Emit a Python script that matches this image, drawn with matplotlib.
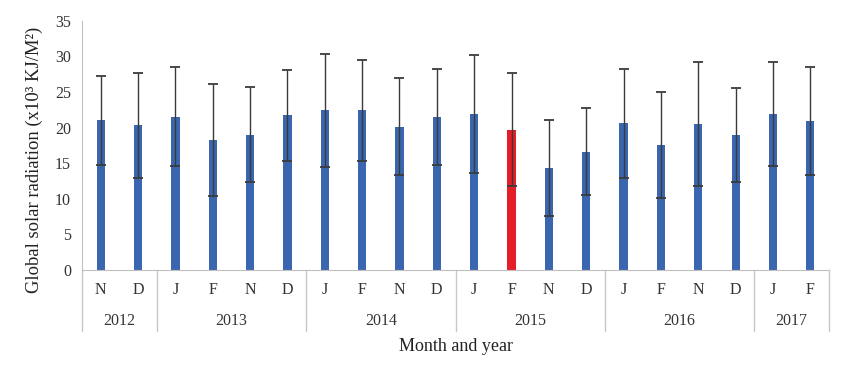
import matplotlib
matplotlib.use("Agg")
import matplotlib.pyplot as plt
import matplotlib.transforms as mtransforms
import numpy as np

months = ["N", "D", "J", "F", "N", "D", "J", "F", "N", "D",
          "J", "F", "N", "D", "J", "F", "N", "D", "J", "F"]
years = ["2012", "2013", "2014", "2015", "2016", "2017"]
year_counts = [2, 4, 4, 4, 4, 2]
values = [21.0, 20.3, 21.5, 18.3, 19.0, 21.7, 22.4, 22.4, 20.1, 21.5,
          21.9, 19.7, 14.3, 16.6, 20.6, 17.5, 20.5, 18.95, 21.85, 20.9]
errors = [6.3, 7.4, 6.95, 7.85, 6.65, 6.4, 7.9, 7.05, 6.8, 6.75,
          8.3, 7.9, 6.75, 6.1, 7.65, 7.45, 8.7, 6.65, 7.3, 7.6]
highlight_index = 11

blue = "#3A66B0"
red = "#E41E26"
bar_colors = [red if i == highlight_index else blue for i in range(len(values))]

plt.rcParams["font.family"] = ["Liberation Serif", "DejaVu Serif"]

fig = plt.figure(figsize=(8.5, 3.79), dpi=100)
ax = fig.add_axes([0.0965, 0.2876, 0.9753 - 0.0965, 0.9454 - 0.2876])

x = np.arange(len(values))
ax.bar(x, values, width=0.22, color=bar_colors, zorder=2)
ax.errorbar(x, values, yerr=errors, fmt="none", ecolor="#3a3a3a",
            elinewidth=1.0, capsize=3.3, capthick=1.3, zorder=3)

ax.set_xlim(-0.5, len(values) - 0.5)
ax.set_ylim(0, 35)
ax.set_yticks(np.arange(0, 36, 5))
ax.tick_params(axis="y", length=0, labelsize=11.5, colors="#333333", pad=8)
ax.set_xticks([])

for s in ["top", "right"]:
    ax.spines[s].set_visible(False)
ax.spines["left"].set_color("#BFBFBF")
ax.spines["bottom"].set_color("#BFBFBF")

trans = mtransforms.blended_transform_factory(ax.transData, ax.transAxes)
for i, m in enumerate(months):
    ax.text(i, -0.08, m, transform=trans, ha="center", va="center",
            fontsize=11.5, color="#333333")

bounds = np.concatenate([[0], np.cumsum(year_counts)]) - 0.5
for b in bounds:
    ax.plot([b, b], [0, -0.245], transform=trans, color="#C8C8C8",
            lw=1.0, clip_on=False)
for yname, lo, hi in zip(years, bounds[:-1], bounds[1:]):
    ax.text((lo + hi) / 2, -0.205, yname, transform=trans, ha="center",
            va="center", fontsize=11.5, color="#333333")

ax.text(0.5, -0.305, "Month and year", transform=ax.transAxes, ha="center",
        va="center", fontsize=13, color="#222222")
ax.set_ylabel("Global solar radiation (x10\u00b3 KJ/M\u00b2)", fontsize=13.4,
              color="#222222")
ax.yaxis.set_label_coords(-0.052, 0.44)

fig.savefig("out.png", dpi=100)
